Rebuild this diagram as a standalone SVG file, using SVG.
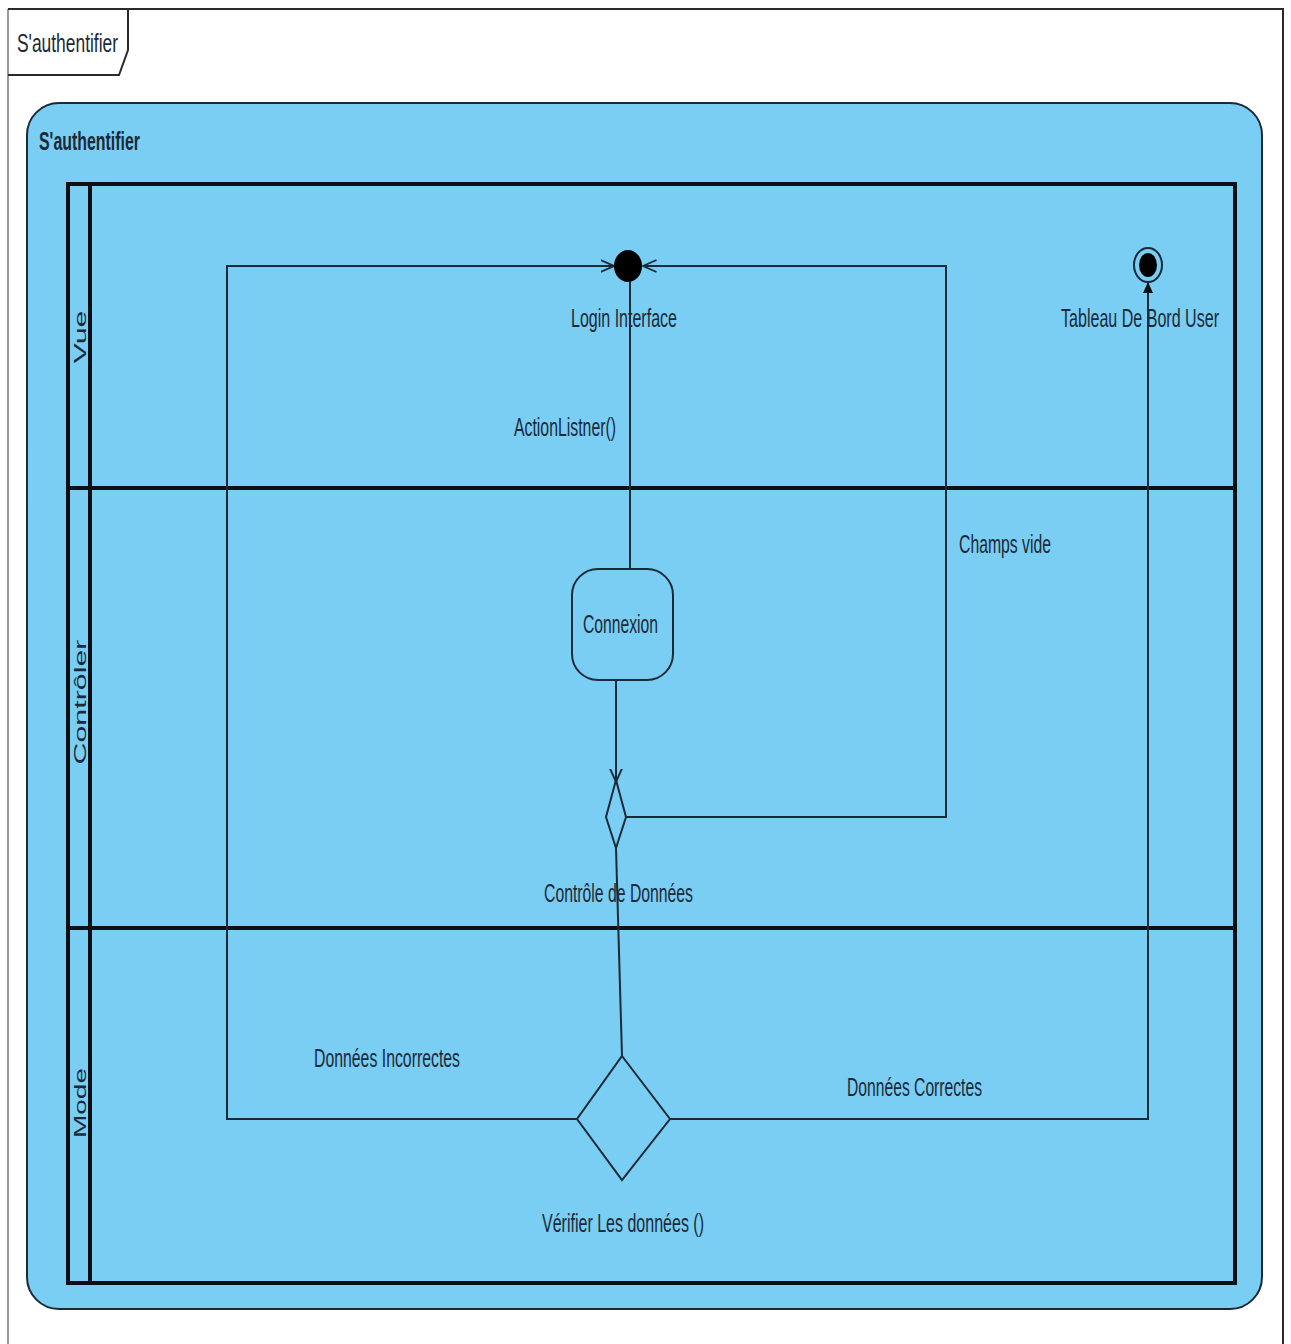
<svg xmlns="http://www.w3.org/2000/svg" width="1291" height="1344" viewBox="0 0 1291 1344">
  <style>
    .lbl { font-family: "Liberation Sans", Arial, sans-serif; font-size: 25px; fill: #1b2a38; }
    .lane { font-family: "Liberation Sans", Arial, sans-serif; font-size: 17px; fill: #1b2a38; }
    .edge { fill: none; stroke: #1b2a38; stroke-width: 2; }
    .lanebar { fill: none; stroke: #0a0f14; stroke-width: 4; }
    .node { fill: none; stroke: #1b2a38; stroke-width: 2; }
  </style>
  <defs>
    <marker id="open" viewBox="0 0 20 20" refX="18" refY="10" markerWidth="15" markerHeight="15" markerUnits="userSpaceOnUse" orient="auto">
      <path d="M0,2 L18,10 L0,18" fill="none" stroke="#1b2a38" stroke-width="2.5"/>
    </marker>
    <marker id="solid" viewBox="0 0 12 12" refX="11" refY="6" markerWidth="12" markerHeight="12" markerUnits="userSpaceOnUse" orient="auto">
      <path d="M0,1 L11,6 L0,11 Z" fill="#0a0f14"/>
    </marker>
  </defs>

  <rect width="1291" height="1344" fill="#ffffff"/>

  <!-- diagram frame with name tab -->
  <g id="frame">
    <path d="M8,1350 L8,9" fill="none" stroke="#9a9a9a" stroke-width="2"/>
    <path d="M8,9 L1283,9 L1283,1350" fill="none" stroke="#2a2a2a" stroke-width="2"/>
    <path d="M8,75 L119,75 L128,50 L128,9" fill="none" stroke="#2a2a2a" stroke-width="2"/>
    <text class="lbl" x="17" y="52" textLength="101" lengthAdjust="spacingAndGlyphs">S'authentifier</text>
  </g>

  <!-- activity container -->
  <g id="activity">
    <rect x="27" y="103" width="1235" height="1206" rx="32" ry="32" fill="#7acdf3" stroke="#1b2a38" stroke-width="2"/>
    <text class="lbl" x="39" y="150" font-weight="bold" textLength="101" lengthAdjust="spacingAndGlyphs">S'authentifier</text>
  </g>

  <!-- swimlanes -->
  <g id="lanes">
    <rect class="lanebar" x="68" y="184" width="1167" height="1099"/>
    <line class="lanebar" x1="90" y1="184" x2="90" y2="1283"/>
    <line class="lanebar" x1="68" y1="488" x2="1235" y2="488"/>
    <line class="lanebar" x1="68" y1="928" x2="1235" y2="928"/>
    <text class="lane" transform="translate(86,337) rotate(-90)" text-anchor="middle" textLength="53" lengthAdjust="spacingAndGlyphs">Vue</text>
    <text class="lane" transform="translate(86,702) rotate(-90)" text-anchor="middle" textLength="125" lengthAdjust="spacingAndGlyphs">Contrôler</text>
    <text class="lane" transform="translate(86,1103) rotate(-90)" text-anchor="middle" textLength="70" lengthAdjust="spacingAndGlyphs">Mode</text>
  </g>

  <!-- connectors -->
  <g id="connectors">
    <path class="edge" d="M630,282 L630,570"/>
    <path class="edge" d="M616,680 L616,782" marker-end="url(#open)"/>
    <path class="edge" d="M626,817 L946,817 L946,266 L643,266" marker-end="url(#open)"/>
    <path class="edge" d="M616,848 L622,1056"/>
    <path class="edge" d="M577,1119 L227,1119 L227,266 L614,266" marker-end="url(#open)"/>
    <path class="edge" d="M670,1119 L1148,1119 L1148,282" marker-end="url(#solid)"/>
    <text class="lbl" x="514" y="436" textLength="102" lengthAdjust="spacingAndGlyphs">ActionListner()</text>
    <text class="lbl" x="959" y="553" textLength="92" lengthAdjust="spacingAndGlyphs">Champs vide</text>
    <text class="lbl" x="314" y="1067" textLength="146" lengthAdjust="spacingAndGlyphs">Données Incorrectes</text>
    <text class="lbl" x="847" y="1096" textLength="135" lengthAdjust="spacingAndGlyphs">Données Correctes</text>
  </g>

  <!-- initial node -->
  <g id="login-interface">
    <ellipse cx="628" cy="266" rx="14" ry="16" fill="#000000"/>
    <text class="lbl" x="571" y="327" textLength="106" lengthAdjust="spacingAndGlyphs">Login Interface</text>
  </g>

  <!-- final node -->
  <g id="tableau-de-bord">
    <ellipse cx="1148" cy="265" rx="14" ry="17" fill="none" stroke="#1b2a38" stroke-width="2"/>
    <ellipse cx="1148" cy="265" rx="9" ry="12" fill="#000000"/>
    <text class="lbl" x="1061" y="327" textLength="158" lengthAdjust="spacingAndGlyphs">Tableau De Bord User</text>
  </g>

  <!-- action -->
  <g id="connexion">
    <rect class="node" x="572" y="569" width="101" height="111" rx="26" ry="26"/>
    <text class="lbl" x="583" y="633" textLength="75" lengthAdjust="spacingAndGlyphs">Connexion</text>
  </g>

  <!-- decision: data check -->
  <g id="controle-donnees">
    <path class="node" d="M616,780 L626,817 L616,848 L606,817 Z"/>
    <text class="lbl" x="544" y="902" textLength="149" lengthAdjust="spacingAndGlyphs">Contrôle de Données</text>
  </g>

  <!-- decision: verify -->
  <g id="verifier-donnees">
    <path class="node" d="M622,1056 L670,1119 L622,1180 L577,1119 Z"/>
    <text class="lbl" x="542" y="1232" textLength="162" lengthAdjust="spacingAndGlyphs">Vérifier Les données ()</text>
  </g>
</svg>
